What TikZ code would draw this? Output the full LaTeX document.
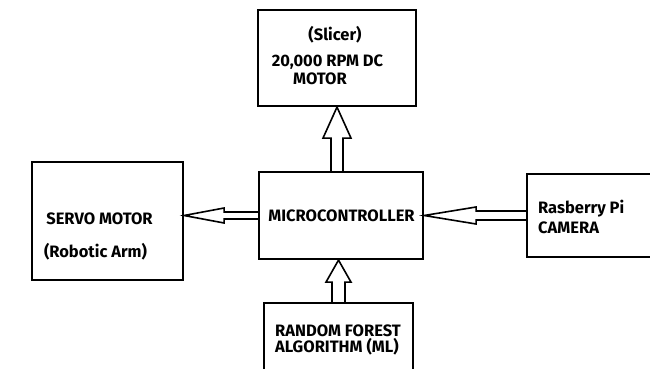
\documentclass[tikz,border=0pt]{standalone}
\usepackage{fontspec}
\setmainfont{Fira Sans}
\usetikzlibrary{calc}

\tikzset{
	blockbox/.style={draw, line width=2.2pt, shape=rectangle, inner sep=0},
	blocktext/.style={inner sep=0, font=\fontsize{16.5}{19}\selectfont\bfseries},
	arrowline/.style={line width=1.6pt, line join=miter}
}

% #1 from, #2 to, #3 head length, #4 head half width, #5 shaft half width
\newcommand{\hollowarrow}[5]{
	\coordinate (s) at (#1);
	\coordinate (t) at (#2);
	\coordinate (hb) at ($(t)!#3!(s)$);
	\draw[arrowline] ($(s)!#5!90:(t)$) -- ($(hb)!#5!90:(t)$) -- ($(hb)!#4!90:(t)$) -- (t)
		-- ($(hb)!#4!-90:(t)$) -- ($(hb)!#5!-90:(t)$) -- ($(s)!#5!-90:(t)$);
}

\begin{document}
\begin{tikzpicture}[x=1pt, y=-1pt]
			\useasboundingbox[fill=white] (0,0) rectangle (650,369);

			% blocks
			\node[blockbox, minimum width=158pt, minimum height=96pt] (slicer) at (337,58){};
			\node[blockbox, minimum width=151pt, minimum height=118pt] (servo) at (107.5,221){};
			\node[blockbox, minimum width=164pt, minimum height=87pt] (mcu) at (341,215.5){};
			\node[blockbox, minimum width=140pt, minimum height=83pt] (camera) at (597,215.5){};
			\node[blockbox, minimum width=149pt, minimum height=90pt] (forest) at (338.5,348){};

			% texts
			\foreach \name/\x/\y/\txt in {slicerA/335/41/(Slicer), slicerB/327.5/66.5/{20,000 RPM DC}, slicerC/320/84/MOTOR,
				servoA/99.5/224/SERVO MOTOR, servoB/95.5/257/(Robotic Arm), mcuA/341.5/221/MICROCONTROLLER}
			{
				\node[blocktext, anchor=base] (\name) at (\x,\y){\txt};
			}
			\foreach \name/\x/\y/\txt in {cameraA/538/213/Rasberry Pi, cameraB/538/233/CAMERA,
				forestA/275/336/RANDOM FOREST, forestB/275/352/ALGORITHM (ML)}
			{
				\node[blocktext, anchor=base west] (\name) at (\x,\y){\txt};
			}

			% arrows
			\hollowarrow{mcu.north -| slicer.south}{slicer.south}{31pt}{14pt}{6pt}
			\hollowarrow{mcu.west}{servo.east |- mcu.west}{40pt}{7.5pt}{3.5pt}
			\hollowarrow{camera.west}{mcu.east}{52pt}{8.5pt}{4.5pt}
			\hollowarrow{forest.north}{mcu.south -| forest.north}{22pt}{12.5pt}{6.5pt}
		\end{tikzpicture}
\end{document}
